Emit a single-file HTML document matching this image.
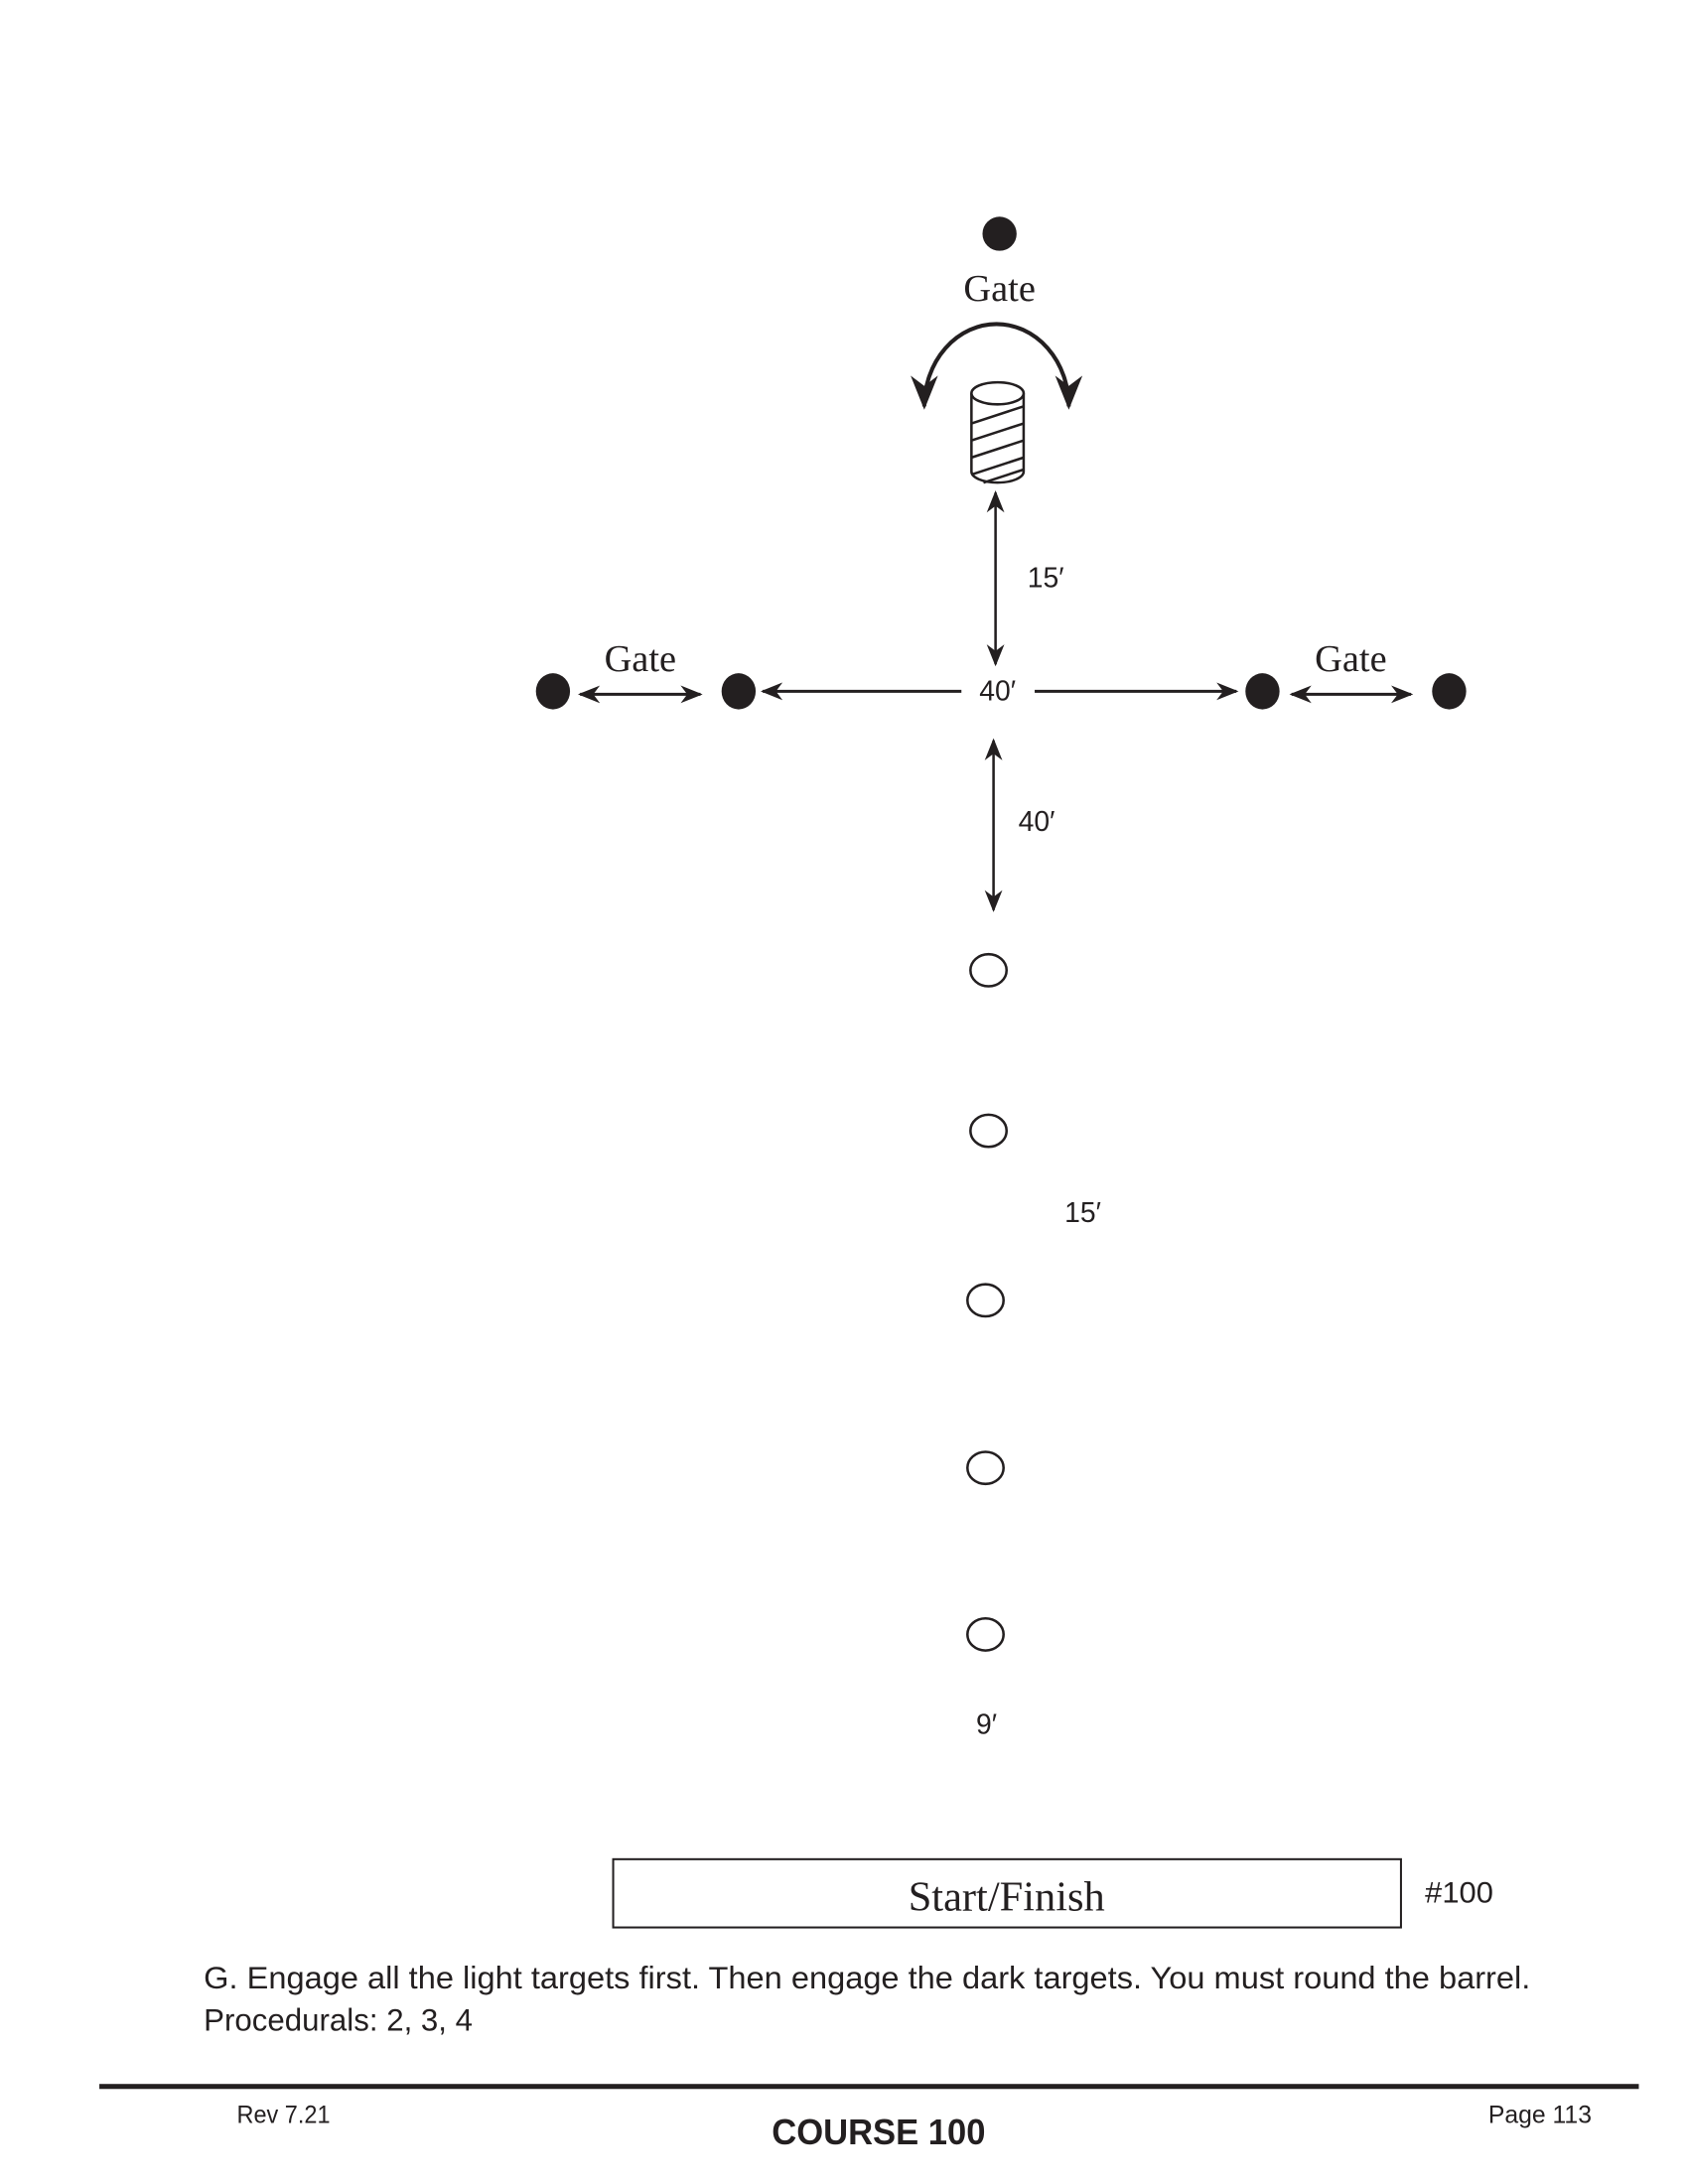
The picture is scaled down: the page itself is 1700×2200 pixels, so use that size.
<!DOCTYPE html>
<html><head><meta charset="utf-8"><style>html,body{margin:0;padding:0;background:#fff}svg{display:block}</style></head>
<body>
<svg width="1700" height="2200" viewBox="0 0 1700 2200" xmlns="http://www.w3.org/2000/svg">
<defs>
<marker id="ah2" viewBox="0 0 10 10" refX="9" refY="5" markerWidth="22" markerHeight="22" orient="auto-start-reverse" markerUnits="userSpaceOnUse">
<path d="M0,1 L10,5 L0,9 L3,5 Z" fill="#231f20"/></marker>
<marker id="ah3" viewBox="0 0 10 10" refX="9" refY="5" markerWidth="34" markerHeight="34" orient="auto-start-reverse" markerUnits="userSpaceOnUse">
<path d="M0,1 L10,5 L0,9 L3,5 Z" fill="#231f20"/></marker>
</defs>
<g transform="scale(1.0107)">
<g fill="#231f20" stroke="none">
<circle cx="996" cy="233" r="17"/>
<ellipse cx="551" cy="689" rx="17" ry="18"/>
<ellipse cx="736" cy="689" rx="17" ry="18"/>
<ellipse cx="1258" cy="689" rx="17" ry="18"/>
<ellipse cx="1444" cy="689" rx="17" ry="18"/>
</g>
<g font-family="Liberation Serif, serif" fill="#231f20" text-anchor="middle" font-size="38">
<text x="996" y="300">Gate</text>
<text x="638" y="669">Gate</text>
<text x="1346" y="669">Gate</text>
</g>
<path d="M921,405 A72,82 0 0 1 1065,405" fill="none" stroke="#231f20" stroke-width="4" marker-start="url(#ah3)" marker-end="url(#ah3)"/>
<g stroke="#231f20" stroke-width="2.5" fill="#fff">
<path d="M968,392 L968,470 A26,11 0 0 0 1020,470 L1020,392"/>
<ellipse cx="994" cy="392" rx="26" ry="11"/>
<path d="M968,422 L1020,405 M968,439 L1020,422 M968,456 L1020,439 M968,473 L1020,456 M980,481 L1020,468" fill="none"/>
</g>
<g stroke="#231f20" fill="none">
<line x1="992" y1="491" x2="992" y2="662" stroke-width="2.5" marker-start="url(#ah2)" marker-end="url(#ah2)"/>
<line x1="990" y1="738" x2="990" y2="907" stroke-width="2.5" marker-start="url(#ah2)" marker-end="url(#ah2)"/>
<line x1="958" y1="689" x2="760" y2="689" stroke-width="3" marker-end="url(#ah2)"/>
<line x1="1031" y1="689" x2="1232" y2="689" stroke-width="3" marker-end="url(#ah2)"/>
<line x1="578" y1="692" x2="698" y2="692" stroke-width="3" marker-start="url(#ah2)" marker-end="url(#ah2)"/>
<line x1="1287" y1="692" x2="1406" y2="692" stroke-width="3" marker-start="url(#ah2)" marker-end="url(#ah2)"/>
</g>
<g font-family="Liberation Sans, sans-serif" fill="#231f20" font-size="28" text-anchor="middle">
<text x="1042" y="585">15′</text>
<text x="994" y="698">40′</text>
<text x="1033" y="828">40′</text>
<text x="1079" y="1218">15′</text>
<text x="983" y="1728">9′</text>
</g>
<g fill="none" stroke="#231f20" stroke-width="2.5">
<ellipse cx="985" cy="967" rx="18" ry="16"/>
<ellipse cx="985" cy="1127" rx="18" ry="16"/>
<ellipse cx="982" cy="1296" rx="18" ry="16"/>
<ellipse cx="982" cy="1463" rx="18" ry="16"/>
<ellipse cx="982" cy="1629" rx="18" ry="16"/>
</g>
<rect x="611" y="1853" width="785" height="68" fill="none" stroke="#231f20" stroke-width="2"/>
<text x="1003" y="1904" font-family="Liberation Serif, serif" font-size="42" text-anchor="middle" fill="#231f20">Start/Finish</text>
<text x="1420" y="1896" font-family="Liberation Sans, sans-serif" font-size="29" fill="#231f20" textLength="68" lengthAdjust="spacingAndGlyphs">#100</text>
<g font-family="Liberation Sans, sans-serif" font-size="31" fill="#231f20">
<text x="203" y="1982" textLength="1322" lengthAdjust="spacingAndGlyphs">G. Engage all the light targets first. Then engage the dark targets. You must round the barrel.</text>
<text x="203" y="2024" textLength="268" lengthAdjust="spacingAndGlyphs">Procedurals: 2, 3, 4</text>
</g>
<rect x="99" y="2077" width="1534" height="5" fill="#231f20"/>
<g font-family="Liberation Sans, sans-serif" fill="#231f20">
<text x="236" y="2116" font-size="25" textLength="93" lengthAdjust="spacingAndGlyphs">Rev 7.21</text>
<text x="769" y="2137" font-size="36" font-weight="bold" textLength="213" lengthAdjust="spacingAndGlyphs">COURSE 100</text>
<text x="1483" y="2116" font-size="25" textLength="103" lengthAdjust="spacingAndGlyphs">Page 113</text>
</g>
</g>
</svg>
</body></html>
